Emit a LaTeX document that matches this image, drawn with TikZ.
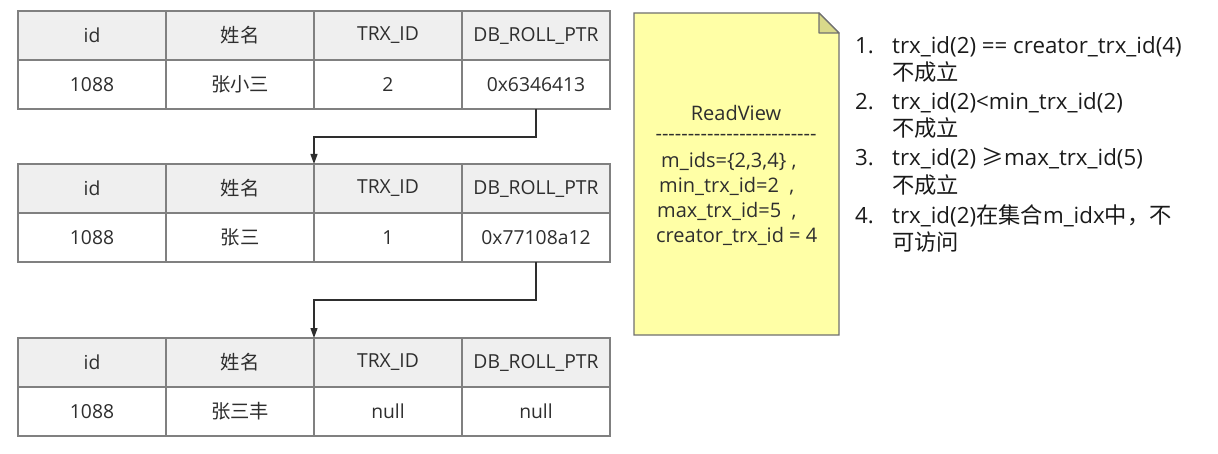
\documentclass[tikz,border=0pt]{standalone}
\usepackage{fontspec}
\setmainfont{Open Sans}
\newfontfamily\cjk{Noto Sans CJK SC}
\usetikzlibrary{arrows.meta}
\definecolor{tline}{HTML}{808080}
\definecolor{hfill}{HTML}{EFEFEF}
\definecolor{tcol}{HTML}{2E2E2E}
\definecolor{notefill}{HTML}{FFFFA6}
\definecolor{foldfill}{HTML}{D9D98A}
\definecolor{noteline}{HTML}{707070}
\definecolor{ltext}{HTML}{1A1A1A}
\tikzset{
  cell/.style={draw=tline, line width=1.4pt, minimum width=148pt, minimum height=49pt,
    inner sep=0pt, outer sep=0pt, anchor=north west, text=tcol,
    font=\fontsize{19.3}{23}\selectfont},
  hcell/.style={cell, fill=hfill},
  dcell/.style={cell, fill=white},
  conn/.style={draw=tcol, line width=1.2pt, -{Triangle[length=10pt,width=7pt]}},
  notetxt/.style={anchor=west, inner sep=0pt, text=tcol, font=\fontsize{20}{24}\selectfont},
  listtxt/.style={anchor=base west, inner sep=0pt, text=ltext, font=\fontsize{22.3}{26}\selectfont},
}
\begin{document}
\begin{tikzpicture}[x=1pt,y=-1pt]
\useasboundingbox (0,0) rectangle (1218,454);
% table 1
\node[hcell] (t1h1) at (18,11) {id};
\node[hcell] (t1h2) at (166,11) {\cjk 姓名};
\node[hcell] (t1h3) at (314,11) {TRX\_ID};
\node[hcell] (t1h4) at (462,11) {DB\_ROLL\_PTR};
\node[dcell] (t1d1) at (18,60) {1088};
\node[dcell] (t1d2) at (166,60) {\cjk 张小三};
\node[dcell] (t1d3) at (314,60) {2};
\node[dcell] (t1d4) at (462,60) {0x6346413};
% table 2
\node[hcell] (t2h1) at (18,164) {id};
\node[hcell] (t2h2) at (166,164) {\cjk 姓名};
\node[hcell] (t2h3) at (314,164) {TRX\_ID};
\node[hcell] (t2h4) at (462,164) {DB\_ROLL\_PTR};
\node[dcell] (t2d1) at (18,213) {1088};
\node[dcell] (t2d2) at (166,213) {\cjk 张三};
\node[dcell] (t2d3) at (314,213) {1};
\node[dcell] (t2d4) at (462,213) {0x77108a12};
% table 3
\node[hcell] (t3h1) at (18,338) {id};
\node[hcell] (t3h2) at (166,338) {\cjk 姓名};
\node[hcell] (t3h3) at (314,338) {TRX\_ID};
\node[hcell] (t3h4) at (462,338) {DB\_ROLL\_PTR};
\node[dcell] (t3d1) at (18,387) {1088};
\node[dcell] (t3d2) at (166,387) {\cjk 张三丰};
\node[dcell] (t3d3) at (314,387) {null};
\node[dcell] (t3d4) at (462,387) {null};
% connectors
\draw[conn] (t1d4.south) -- ++(0,28) -| (t2h3.north west);
\draw[conn] (t2d4.south) -- ++(0,38) -| (t3h3.north west);
% note
\draw[draw=noteline, line width=1.2pt, fill=notefill]
  (634,13) -- (819,13) -- (839,33) -- (839,335) -- (634,335) -- cycle;
\draw[draw=noteline, line width=1.2pt, fill=foldfill, line join=round]
  (819,13) -- (819,33) -- (839,33) -- cycle;
\node[notetxt, anchor=center] (rvtitle) at (736,113) {ReadView};
\node[notetxt, anchor=center] (rvdash) at (736,137) {-{}-{}-{}-{}-{}-{}-{}-{}-{}-{}-{}-{}-{}-{}-{}-{}-{}-{}-{}-{}-{}-{}-{}-{}-};
\node[notetxt] (rv1) at (661,161) {m\_ids=\{2,3,4\} ,};
\node[notetxt] (rv2) at (659,186) {min\_trx\_id=2 \ ,};
\node[notetxt] (rv3) at (657,211) {max\_trx\_id=5 \ ,};
\node[notetxt] (rv4) at (656,236) {creator\_trx\_id = 4};
% list
\node[listtxt] (n1) at (855,54) {1.};
\node[listtxt] (l1a) at (892,54) {trx\_id(2) == creator\_trx\_id(4)};
\node[listtxt] (l1b) at (892,81) {\cjk 不成立};
\node[listtxt] (n2) at (855,110) {2.};
\node[listtxt] (l2a) at (892,110) {trx\_id(2)<min\_trx\_id(2)};
\node[listtxt] (l2b) at (892,137) {\cjk 不成立};
\node[listtxt] (n3) at (855,166) {3.};
\node[listtxt] (l3a) at (892,166) {trx\_id(2) {\cjk ≥}max\_trx\_id(5)};
\node[listtxt] (l3b) at (892,194) {\cjk 不成立};
\node[listtxt] (n4) at (855,224) {4.};
\node[listtxt] (l4a) at (892,224) {trx\_id(2){\cjk 在集合}m\_idx{\cjk 中，不}};
\node[listtxt] (l4b) at (892,251) {\cjk 可访问};
\end{tikzpicture}
\end{document}
